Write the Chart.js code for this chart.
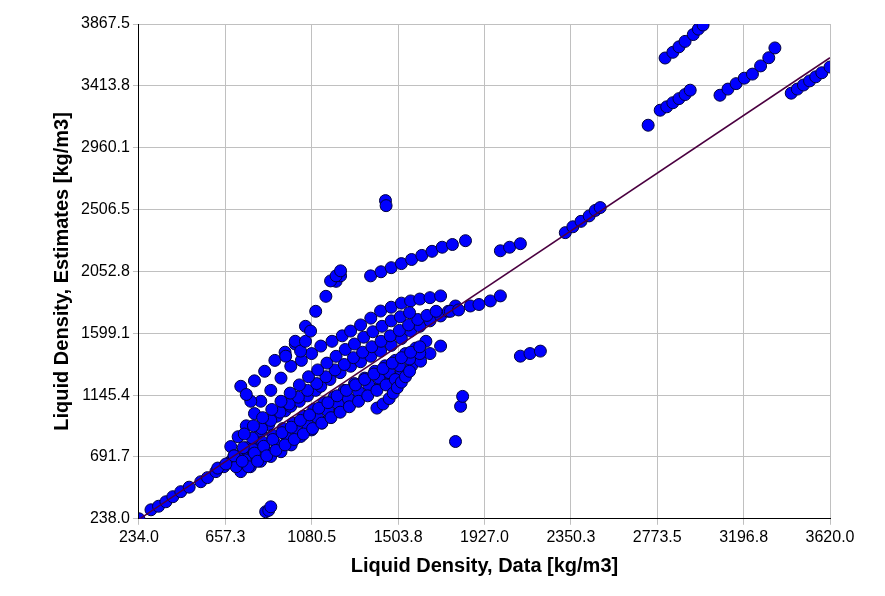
<!DOCTYPE html>
<html>
<head>
<meta charset="utf-8">
<script src="https://cdn.jsdelivr.net/npm/chart.js@4"></script>
<style>
  body { margin: 0; background: #fff; }
  #wrap { width: 885px; height: 596px; }
</style>
</head>
<body>
<div id="wrap"><canvas id="densityChart"></canvas></div>
<script>
const xTicks = [234.0, 657.3, 1080.5, 1503.8, 1927.0, 2350.3, 2773.5, 3196.8, 3620.0];
const yTicks = [238.0, 691.7, 1145.4, 1599.1, 2052.8, 2506.5, 2960.1, 3413.8, 3867.5];

const dataX = [
  234, 293, 330, 366, 400, 439, 480, 537, 570, 611, 650, 684, 720, 757,
  684, 720, 760, 800, 831, 870, 910, 950, 978, 1020, 1060, 1100, 1125, 1170, 1220, 1271, 1320, 1370, 1418, 1470, 1520, 1565, 1610, 1660, 1712, 1750, 1785,
  684, 720, 760, 800, 831, 880, 930, 978, 1030, 1080, 1125, 1180, 1230, 1271, 1320, 1370, 1418, 1470, 1520, 1565, 1610, 1660, 1712,
  733, 780, 830, 880, 930, 980, 1027, 1080, 1130, 1173, 1220, 1270, 1320, 1370, 1420, 1467, 1520, 1570, 1614, 1660, 1712,
  740, 790, 840, 890, 940, 990, 1040, 1090, 1140, 1190, 1240, 1290, 1340, 1390, 1440, 1490, 1540, 1590, 1640,
  760, 810, 860, 910, 960, 1010, 1060, 1110, 1160, 1210, 1260, 1310, 1360, 1410, 1460, 1510, 1560, 1610,
  700, 745, 790, 835, 880, 925, 970, 1015, 1060, 1105, 1150, 1195, 1240, 1285, 1330, 1375, 1420, 1465, 1510, 1555, 1600, 1645, 1690,
  710, 755, 800, 845, 890, 935, 980, 1025, 1070, 1115, 1160, 1205, 1250, 1295, 1340, 1385, 1430, 1475, 1520, 1565, 1610,
  750, 795, 840, 885, 930, 975, 1020, 1065, 1110, 1155, 1200, 1245, 1290, 1335, 1380, 1425, 1470, 1515, 1560,
  770, 815, 860, 905, 950, 995, 1040, 1085, 1130, 1175, 1220, 1265, 1310, 1355, 1400, 1445, 1490,
  782, 733, 760, 800, 850, 900, 950, 1000,
  953, 1000, 1050, 1100, 1150, 1200, 1222,
  1026, 1050, 1075, 1173, 1200, 1222,
  1369, 1420, 1470, 1520, 1570, 1620, 1670, 1720, 1770, 1834,
  1442, 1445,
  1400, 1430, 1460, 1480, 1500, 1520, 1540, 1560,
  855, 870, 880,
  620, 660, 700, 740,
  1785, 1810, 1820,
  1760, 1800, 1858, 1900, 1956, 2005,
  2005, 2050, 2103,
  2103, 2150, 2201,
  2323, 2360, 2400, 2440, 2470, 2494,
  2729, 2788, 2820, 2850, 2880, 2910, 2935,
  2812, 2850, 2880, 2910, 2950, 2975, 2998,
  3081, 3120, 3160, 3200, 3240, 3280, 3320, 3350,
  3430, 3460, 3490, 3520, 3550, 3580, 3620
];
const dataY = [
  238, 304, 330, 363, 400, 437, 470, 510, 540, 584, 620, 658, 690, 717,
  658, 700, 760, 820, 879, 930, 990, 1030, 1063, 1100, 1140, 1180, 1210, 1260, 1310, 1357, 1390, 1430, 1468, 1510, 1560, 1615, 1650, 1690, 1726, 1760, 1799,
  768, 840, 920, 1010, 1100, 1180, 1270, 1357, 1400, 1450, 1505, 1540, 1580, 1615, 1660, 1710, 1762, 1790, 1820, 1836, 1850, 1860, 1873,
  584, 620, 660, 695, 730, 780, 842, 890, 940, 989, 1030, 1080, 1136, 1180, 1230, 1284, 1320, 1360, 1394, 1450, 1505,
  700, 750, 800, 850, 900, 940, 990, 1040, 1090, 1130, 1180, 1230, 1270, 1320, 1360, 1400, 1450, 1490, 1540,
  640, 680, 730, 780, 830, 880, 930, 980, 1030, 1080, 1120, 1170, 1220, 1270, 1310, 1360, 1410, 1450,
  700, 760, 830, 900, 960, 1020, 1080, 1130, 1180, 1230, 1280, 1330, 1370, 1420, 1460, 1500, 1540, 1580, 1620, 1660, 1700, 1730, 1760,
  620, 670, 720, 770, 820, 870, 910, 960, 1000, 1050, 1090, 1140, 1180, 1220, 1260, 1300, 1340, 1380, 1420, 1460, 1500,
  860, 920, 980, 1040, 1100, 1160, 1220, 1280, 1330, 1380, 1430, 1480, 1520, 1570, 1610, 1650, 1690, 1720, 1750,
  620, 660, 700, 740, 780, 820, 860, 900, 940, 980, 1020, 1060, 1100, 1140, 1180, 1220, 1260,
  1100, 1210, 1150, 1250, 1320, 1400, 1460, 1520,
  1431, 1540, 1650, 1760, 1870, 1980, 2020,
  1468, 1540, 1615, 1983, 2020, 2057,
  2020, 2050, 2080, 2110, 2140, 2170, 2200, 2230, 2250, 2278,
  2572, 2535,
  1050, 1080, 1120, 1160, 1200, 1240, 1280, 1320,
  290, 300, 326,
  610, 640, 700, 660,
  805, 1063, 1136,
  1760, 1770, 1799, 1810, 1836, 1873,
  2204, 2230, 2256,
  1431, 1450, 1468,
  2337, 2380, 2420, 2460, 2500, 2521,
  3125, 3235, 3260, 3290, 3320, 3350, 3382,
  3618, 3660, 3700, 3740, 3790, 3830, 3860,
  3345, 3390, 3430, 3470, 3500, 3560, 3620, 3692,
  3360, 3390, 3420, 3450, 3480, 3510, 3552
];
const lineX = [234.0, 3620.0];

const points = dataX.map((x, i) => ({ x: x, y: dataY[i] }));

const axisFont = { family: 'Liberation Sans, Arial, sans-serif', size: 20, weight: 'bold' };
const tickFont = { family: 'Liberation Sans, Arial, sans-serif', size: 16 };

new Chart(document.getElementById('densityChart'), {
  type: 'scatter',
  data: {
    datasets: [{
      label: 'Estimates',
      data: points,
      backgroundColor: '#0000ff',
      borderColor: '#000040',
      borderWidth: 1,
      pointRadius: 6,
      order: 2
    }, {
      label: 'Parity',
      type: 'line',
      data: lineX.map(v => ({ x: v, y: v })),
      borderColor: '#4b0040',
      borderWidth: 1.5,
      pointRadius: 0,
      order: 1
    }]
  },
  options: {
    responsive: true,
    maintainAspectRatio: false,
    animation: false,
    layout: { padding: { left: 46, right: 55, top: 24, bottom: 14 } },
    plugins: { legend: { display: false }, tooltip: { enabled: false } },
    scales: {
      x: {
        type: 'linear',
        min: xTicks[0], max: xTicks[xTicks.length - 1],
        afterBuildTicks: axis => { axis.ticks = xTicks.map(v => ({ value: v })); },
        ticks: { font: tickFont, color: '#000', callback: v => v.toFixed(1), maxRotation: 0 },
        grid: { color: '#c0c0c0', tickLength: 6 },
        border: { color: '#000' },
        title: { display: true, text: 'Liquid Density, Data [kg/m3]', font: axisFont, color: '#000' }
      },
      y: {
        type: 'linear',
        min: yTicks[0], max: yTicks[yTicks.length - 1],
        afterBuildTicks: axis => { axis.ticks = yTicks.map(v => ({ value: v })); },
        ticks: { font: tickFont, color: '#000', callback: v => v.toFixed(1) },
        grid: { color: '#c0c0c0', tickLength: 6 },
        border: { color: '#000' },
        title: { display: true, text: 'Liquid Density, Estimates [kg/m3]', font: axisFont, color: '#000' }
      }
    }
  }
});
</script>
</body>
</html>
